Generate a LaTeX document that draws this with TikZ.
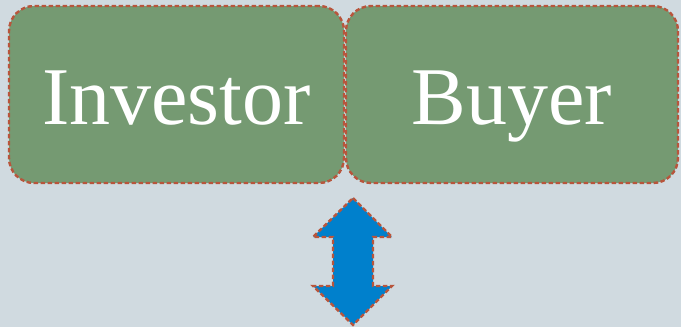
\documentclass[tikz,border=0pt]{standalone}
\usepackage{fontspec}
\setmainfont{Liberation Serif}
\definecolor{bgcol}{HTML}{D0DAE0}
\definecolor{boxfill}{HTML}{759A72}
\definecolor{edgecol}{HTML}{B8553C}
\definecolor{arrowfill}{HTML}{0080CC}
\begin{document}
\begin{tikzpicture}[x=1pt,y=-1pt,
  partybox/.style={draw=edgecol, fill=boxfill, line width=2.4pt,
    dash pattern=on 4.5pt off 2.5pt, rounded corners=25pt,
    minimum width=335pt, minimum height=177pt, inner sep=0pt,
    text height=59pt, text depth=0pt,
    text=white, font=\fontsize{82}{86}\selectfont},
  flowarrow/.style={draw=edgecol, fill=arrowfill, line width=2.4pt,
    dash pattern=on 4.5pt off 2.5pt, line join=miter}]
  \fill[bgcol] (0,0) rectangle (681,327);
  \useasboundingbox (0,0) rectangle (681,327);
  \node[partybox] (investor) at (176.5,94.5) {Investor};
  \node[partybox, minimum width=332pt] (buyer) at (512,94.5) {Buyer};
  % vertical two-headed arrow below the boxes
  \draw[flowarrow] (353,198) -- (392,237) -- (373,237) -- (373,286)
    -- (392,286) -- (353,325) -- (313,286) -- (333,286) -- (333,237)
    -- (313,237) -- cycle;
\end{tikzpicture}
\end{document}
